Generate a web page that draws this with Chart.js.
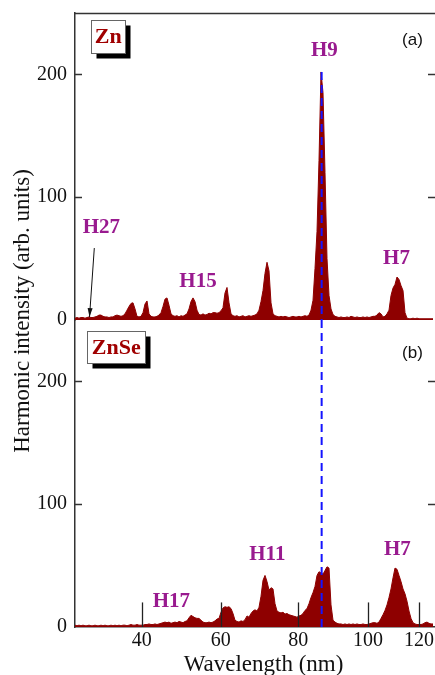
<!DOCTYPE html>
<html>
<head>
<meta charset="utf-8">
<script src="https://cdn.jsdelivr.net/npm/chart.js@4.4.1/dist/chart.umd.min.js"></script>
<style>
  html, body { margin: 0; padding: 0; background: #fff; }
</style>
</head>
<body>
<canvas id="hhgChart" width="435" height="675"></canvas>
<script>
// spectrometer calibration: wavelength (nm) against detector channel
const calNm = [23, 40, 60, 80, 100, 120, 126];
const calCh = [0, 66.7, 145.7, 223.3, 293, 344, 360];
const tickNm = [40, 60, 80, 100, 120];
const yTickValues = [0, 100, 200];
const chStep = 2;
const h9Nm = 86.7;
const h9Peak = 202;

// (a) Zn plume, one value every 2 detector channels
const znSignal = [
  1.5, 2, 1.5, 2, 2, 1.5, 2, 2.5, 2, 2,
  2.5, 3, 4, 4, 3, 2.5, 2.5, 2, 2.5, 2.5,
  3.5, 4, 3.5, 3, 3.5, 5, 8, 11, 13.5, 14,
  9, 3, 2.5, 3, 6, 13, 15.5, 5, 3, 2.5,
  2.5, 3, 4, 6, 11, 17, 18, 12, 5, 3.5,
  3, 3.5, 2.5, 3.5, 3, 4, 5, 9, 15, 18,
  15, 8, 4.5, 4, 5, 4, 4.5, 5.5, 5, 6,
  6, 5.5, 6, 7.5, 10, 22, 26.5, 14, 5, 3.5,
  3, 3.5, 2.5, 3, 3.5, 2.5, 3, 3.5, 3, 3.5,
  4, 5, 8, 15, 24, 38, 47, 40, 14, 5,
  3.5, 3, 2.5, 3, 2.5, 3, 2.5, 2, 2.5, 3,
  2.5, 2.5, 3, 2.5, 3, 3.5, 3, 4, 8, 16,
  42, 72, 130, 202, 185, 120, 50, 20, 9, 4.5,
  3, 2.5, 2, 2.5, 2, 2, 2.5, 2, 3, 2.5,
  2, 2.5, 2, 2, 2.5, 2, 2.5, 2, 2.5, 3,
  3, 4, 6, 5, 2.5, 3, 5, 8, 20, 26,
  29, 35, 33, 28, 24, 6, 1.5, 1, 1, 1.5,
  1, 1.5, 1, 1, 1, 1, 1, 1, 1, 1
];

// (b) ZnSe plume
const znseSignal = [
  1.5, 1, 1.5, 1, 1.5, 1, 1, 1.5, 1, 1,
  1.5, 1, 1, 1.5, 1, 1.5, 1, 1, 1.5, 1,
  1.5, 1, 1.5, 1, 1.5, 1.5, 1, 1.5, 2, 1.5,
  1.5, 2, 1.5, 1.5, 1.5, 2, 2, 2.5, 2, 2,
  2.5, 2, 2.5, 3, 3.5, 4, 3.5, 4, 3, 3.5,
  4, 3.5, 4.5, 4, 3.5, 4.5, 5, 7.5, 9.5, 8.5,
  7.5, 7, 7, 5.5, 4, 3.5, 3.5, 4, 3.5, 4,
  5, 6.5, 7, 12, 15.5, 16.5, 16, 16.5, 15, 11,
  5.5, 4.5, 4, 5, 4.5, 6, 9, 8, 11, 13,
  14, 13, 16, 25, 38, 42, 37, 30, 32, 31,
  19, 13, 12, 11.5, 12, 10.5, 11, 10, 9.5, 9,
  8.5, 8, 9, 9.5, 11, 13.5, 15, 19, 24, 28,
  33, 42, 45, 44, 43, 46, 49, 48, 18, 5.5,
  4, 3, 2.5, 2.5, 2, 2.5, 2, 2.5, 2, 2.5,
  2, 2.5, 2, 2, 2.5, 2, 2, 2.5, 3, 3.5,
  3.5, 3, 4, 7, 10, 13.5, 18, 24, 31, 40,
  48, 47, 42, 37, 31, 27, 21, 13, 7, 3.5,
  2.5, 2, 2, 2, 2.5, 3.5, 4, 3, 2.5, 2.5
];

const fillColor = "#8e0000";
const labelColor = "#991a8f";
const sampleColor = "#a00000";
const axisColor = "#333";
const serif = "'Liberation Serif', 'Times New Roman', serif";

// harmonic labels, placed in data units of each panel
const harmonicNotes = [
  { text: "H27", axis: "yA", ch: 26.3, val: 74.9 },
  { text: "H15", axis: "yA", ch: 123, val: 30.9 },
  { text: "H9", axis: "yA", ch: 249.3, val: 219.5 },
  { text: "H7", axis: "yA", ch: 321.5, val: 49.7 },
  { text: "H17", axis: "yB", ch: 96.3, val: 20.4 },
  { text: "H11", axis: "yB", ch: 192.3, val: 58.6 },
  { text: "H7", axis: "yB", ch: 322.3, val: 62.7 }
];
const sampleNotes = [
  { text: "Zn", axis: "yA", ch: 33.3, val: 231, w: 34, h: 33 },
  { text: "ZnSe", axis: "yB", ch: 41.3, val: 228, w: 58, h: 32 }
];
const panelNotes = [
  { text: "(a)", axis: "yA", ch: 337.5, val: 228 },
  { text: "(b)", axis: "yB", ch: 337.5, val: 223 }
];

function nmToCh(nm) {
  for (let i = 0; i < calNm.length - 1; i++) {
    if (nm <= calNm[i + 1]) {
      const f = (nm - calNm[i]) / (calNm[i + 1] - calNm[i]);
      return calCh[i] + f * (calCh[i + 1] - calCh[i]);
    }
  }
  return calCh[calCh.length - 1];
}

function spectrum(values) {
  return values.map((v, i) => ({ x: i * chStep, y: v }));
}

const h9Ch = nmToCh(h9Nm);

function line(ctx, x1, y1, x2, y2) {
  ctx.beginPath();
  ctx.moveTo(x1, y1);
  ctx.lineTo(x2, y2);
  ctx.stroke();
}

const overlay = {
  id: "overlay",
  afterDraw(chart) {
    const { ctx, chartArea: area, scales } = chart;
    const xs = scales.x;
    ctx.save();
    ctx.strokeStyle = axisColor;
    ctx.lineWidth = 1.5;
    // top frame
    line(ctx, area.left, area.top + 0.5, area.right, area.top + 0.5);
    // inward y ticks, both sides
    ["yA", "yB"].forEach(id => {
      yTickValues.forEach(v => {
        if (v === 0) return;
        const py = Math.round(scales[id].getPixelForValue(v)) + 0.5;
        line(ctx, area.left, py, area.left + 7, py);
        line(ctx, area.right, py, area.right - 7, py);
      });
    });
    // wavelength ticks inside panel (b)
    ctx.strokeStyle = "#222";
    ctx.lineWidth = 1.3;
    tickNm.forEach(nm => {
      const px = Math.round(xs.getPixelForValue(nmToCh(nm))) + 0.5;
      line(ctx, px, scales.yB.getPixelForValue(0), px, scales.yB.getPixelForValue(20));
    });

    // H27 arrow
    const ax1 = xs.getPixelForValue(19.3), ay1 = scales.yA.getPixelForValue(58.6);
    const ax2 = xs.getPixelForValue(14.5), ay2 = scales.yA.getPixelForValue(2.4);
    ctx.strokeStyle = "#111";
    ctx.lineWidth = 1;
    line(ctx, ax1, ay1, ax2, ay2);
    const ang = Math.atan2(ay2 - ay1, ax2 - ax1);
    ctx.fillStyle = "#111";
    ctx.beginPath();
    ctx.moveTo(ax2, ay2);
    ctx.lineTo(ax2 - 9 * Math.cos(ang) + 2.5 * Math.sin(ang), ay2 - 9 * Math.sin(ang) - 2.5 * Math.cos(ang));
    ctx.lineTo(ax2 - 9 * Math.cos(ang) - 2.5 * Math.sin(ang), ay2 - 9 * Math.sin(ang) + 2.5 * Math.cos(ang));
    ctx.closePath();
    ctx.fill();

    // harmonic orders
    ctx.textAlign = "center";
    ctx.textBaseline = "middle";
    ctx.font = "bold 21px " + serif;
    ctx.fillStyle = labelColor;
    harmonicNotes.forEach(n => {
      ctx.fillText(n.text, xs.getPixelForValue(n.ch), scales[n.axis].getPixelForValue(n.val));
    });

    // sample boxes with shadow
    sampleNotes.forEach(n => {
      const cx = xs.getPixelForValue(n.ch);
      const cy = scales[n.axis].getPixelForValue(n.val);
      const bx = Math.round(cx - n.w / 2) + 0.5, by = Math.round(cy - n.h / 2) + 0.5;
      ctx.fillStyle = "#000";
      ctx.fillRect(bx + 5, by + 5, n.w, n.h);
      ctx.fillStyle = "#fff";
      ctx.fillRect(bx, by, n.w, n.h);
      ctx.strokeStyle = "#666";
      ctx.lineWidth = 1;
      ctx.strokeRect(bx, by, n.w, n.h);
      ctx.font = "bold 22px " + serif;
      ctx.fillStyle = sampleColor;
      ctx.fillText(n.text, cx, cy + 1);
    });

    // panel letters
    ctx.font = "17px 'Liberation Sans', Arial, sans-serif";
    ctx.fillStyle = "#111";
    panelNotes.forEach(n => {
      ctx.fillText(n.text, xs.getPixelForValue(n.ch), scales[n.axis].getPixelForValue(n.val));
    });

    // axis titles
    ctx.font = "23px " + serif;
    ctx.textBaseline = "alphabetic";
    ctx.fillText("Wavelength (nm)", (area.left + area.right) / 2 + 8.5, chart.height - 4);
    ctx.save();
    ctx.translate(area.left - 46, (area.top + area.bottom) / 2 - 9);
    ctx.rotate(-Math.PI / 2);
    ctx.fillText("Harmonic intensity (arb. units)", 0, 0);
    ctx.restore();
    ctx.restore();
  }
};

function yPanel() {
  return {
    type: "linear",
    position: "left",
    stack: "panels",
    stackWeight: 1,
    min: 0,
    max: 250,
    bounds: "data",
    grid: { display: false, drawTicks: false },
    border: { display: true, color: axisColor, width: 1.5 },
    ticks: {
      padding: 8,
      color: "#111",
      font: { family: serif, size: 20 }
    },
    afterBuildTicks: s => { s.ticks = yTickValues.map(v => ({ value: v })); },
    afterFit: s => {
      s.width = 75;
      s.paddingTop = 0;
      s.paddingBottom = 0;
    }
  };
}

const chart = new Chart(document.getElementById("hhgChart"), {
  type: "line",
  data: {
    datasets: [
      {
        label: "Zn",
        data: spectrum(znSignal),
        yAxisID: "yA",
        fill: "origin",
        backgroundColor: fillColor,
        borderColor: fillColor,
        borderWidth: 1,
        pointRadius: 0,
        order: 2
      },
      {
        label: "ZnSe",
        data: spectrum(znseSignal),
        yAxisID: "yB",
        fill: "origin",
        backgroundColor: fillColor,
        borderColor: fillColor,
        borderWidth: 1,
        pointRadius: 0,
        order: 2
      },
      {
        label: "H9 (a)",
        data: [{ x: h9Ch, y: h9Peak }, { x: h9Ch, y: 0 }],
        yAxisID: "yA",
        fill: false,
        borderColor: "#1414ff",
        borderWidth: 2,
        borderDash: [8, 5],
        pointRadius: 0,
        order: 1
      },
      {
        label: "H9 (b)",
        data: [{ x: h9Ch, y: 250 }, { x: h9Ch, y: 0 }],
        yAxisID: "yB",
        fill: false,
        borderColor: "#1414ff",
        borderWidth: 2,
        borderDash: [8, 5],
        pointRadius: 0,
        order: 1
      }
    ]
  },
  options: {
    responsive: false,
    animation: false,
    devicePixelRatio: 1,
    layout: { padding: { top: 13, right: 0, bottom: 0, left: 0 } },
    plugins: { legend: { display: false }, tooltip: { enabled: false } },
    scales: {
      x: {
        type: "linear",
        min: 0,
        max: 360,
        bounds: "data",
        grid: { display: false, drawTicks: false },
        border: { display: true, color: axisColor, width: 1.5 },
        ticks: {
          autoSkip: false,
          maxRotation: 0,
          padding: 2,
          color: "#111",
          font: { family: serif, size: 20 },
          callback: (v, i) => tickNm[i]
        },
        afterBuildTicks: s => { s.ticks = tickNm.map(nm => ({ value: nmToCh(nm) })); },
        afterFit: s => {
          s.height = 48;
          s.paddingLeft = 0;
          s.paddingRight = 0;
        }
      },
      // the stack is laid out from the bottom up: (b) first, then (a) on top
      yB: yPanel(),
      yA: yPanel()
    }
  },
  plugins: [overlay]
});
</script>
</body>
</html>
